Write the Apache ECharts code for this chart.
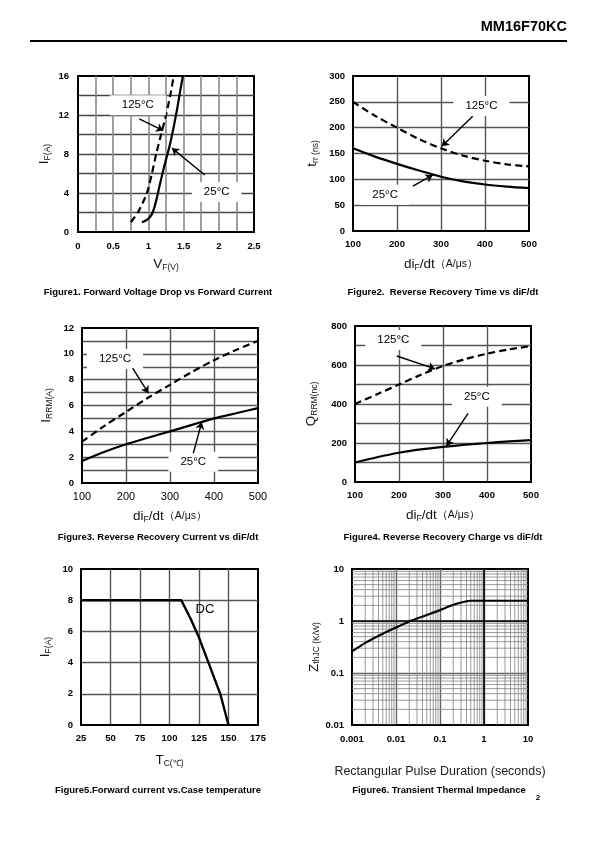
<!DOCTYPE html>
<html><head><meta charset="utf-8">
<script src="https://cdn.jsdelivr.net/npm/echarts@6/dist/echarts.min.js"></script>
<style>html,body{margin:0;padding:0;background:#fff}#c{width:595px;height:842px}</style>
</head><body><div id="c"></div>
<script>
// ---------- data ----------
// Figure 1: forward voltage (V) vs forward current (A)
const f1_125 = [[0.75,1],[0.85,2],[0.92,3],[0.98,4],[1.05,6],[1.11,8],[1.18,10],[1.25,12],[1.31,14],[1.36,16]];
const f1_25  = [[0.91,1],[0.98,1.25],[1.04,1.7],[1.08,2.4],[1.12,3.5],[1.16,4.8],[1.22,6.6],[1.30,8.8],[1.36,10.8],[1.41,12.7],[1.45,14.4],[1.49,16]];
// Figure 2: trr (ns) vs diF/dt
const f2_125 = [[100,250],[150,223],[200,200],[250,178],[300,160],[350,146],[400,136],[450,129],[500,125]];
const f2_25  = [[100,160],[150,144],[200,130],[250,117],[300,105],[350,96],[400,90],[450,86],[500,83]];
// Figure 3: IRRM (A) vs diF/dt
const f3_125 = [[100,3.2],[150,4.4],[200,5.5],[250,6.6],[300,7.6],[350,8.6],[400,9.5],[450,10.3],[500,11.0]];
const f3_25  = [[100,1.7],[150,2.4],[200,3.0],[250,3.5],[300,4.0],[350,4.5],[400,5.0],[450,5.4],[500,5.8]];
// Figure 4: QRRM (nC) vs diF/dt
const f4_125 = [[100,400],[150,450],[200,500],[250,550],[300,595],[350,630],[400,658],[450,680],[500,697]];
const f4_25  = [[100,100],[150,127],[200,150],[250,167],[300,180],[350,191],[400,200],[450,208],[500,215]];
// Figure 5: IF (A) vs Tc
const f5_dc  = [[25,8],[110,8],[118,6.8],[125,5.6],[133,4],[143,2],[150,0]];
// Figure 6: Zth (K/W) vs pulse duration (s)
const f6_z   = [[0.001,0.26],[0.002,0.38],[0.005,0.57],[0.01,0.75],[0.02,0.98],[0.05,1.3],[0.1,1.62],[0.2,2.05],[0.5,2.45],[1,2.45],[10,2.45]];

// annotation labels and arrows (data coordinates)
const f1_lbl = [{t:'125°C', p:[0.85,13.0]}, {t:'25°C', p:[1.97,4.1]}];
const f1_arr = [[[0.87,11.6],[1.21,10.4]], [[1.80,5.85],[1.335,8.6]]];
const f2_lbl = [{t:'125°C', p:[392,242]}, {t:'25°C', p:[173,70]}];
const f2_arr = [[[372,222],[302,164]], [[236,87],[281,108]]];
const f3_lbl = [{t:'125°C', p:[175,9.6]}, {t:'25°C', p:[353,1.65]}];
const f3_arr = [[[215,8.9],[251,6.95]], [[353,2.3],[372,4.7]]];
const f4_lbl = [{t:'125°C', p:[187,728]}, {t:'25°C', p:[377,437]}];
const f4_arr = [[[195,646],[282,580]], [[357,352],[308,185]]];
const f5_lbl = [{t:'DC', p:[130,7.4]}];

// ---------- layout ----------
const grids = [
  {left:78, top:76, width:176, height:156},
  {left:353, top:76, width:176, height:155},
  {left:82, top:328, width:176, height:155},
  {left:355, top:326, width:176, height:156},
  {left:81, top:569, width:177, height:156},
  {left:352, top:569, width:176, height:156}
];
const FONT = '"Liberation Sans", Arial, sans-serif';
const lblStyle = {color:'#000', fontSize:9.5, fontWeight:'bold', fontFamily:FONT};
const rich = {
  m:{fontSize:13.5, fontFamily:FONT, color:'#111'},
  s:{fontSize:8.5, fontFamily:FONT, color:'#111', verticalAlign:'bottom', padding:[6,0,0,0]},
  u:{fontSize:10.5, fontFamily:FONT, color:'#111'}
};
function every(step){ return v => (Math.abs(v/step - Math.round(v/step)) < 1e-6) ? String(+v.toPrecision(4)) : ''; }
function valAxis(gi, o){
  return Object.assign({
    type:'value', gridIndex:gi,
    axisLine:{show:true, onZero:false, lineStyle:{color:'#000', width:2}},
    axisTick:{show:false},
    axisLabel:Object.assign({margin:8}, lblStyle),
    splitLine:{show:true, showMinLine:false, showMaxLine:false, lineStyle:{color:'#555', width:1.4}},
    nameLocation:'middle', nameTextStyle:{rich:rich}
  }, o);
}
function lbls(arr){
  return {symbol:'rect', symbolSize:0, silent:true, z:6,
    label:{show:true, position:'inside', color:'#000', fontSize:11.5, fontFamily:FONT,
      backgroundColor:'#fff', padding:[4,12], formatter:p=>p.name},
    data:arr.map(a=>({name:a.t, coord:a.p}))};
}
function arrows(arr){
  return {silent:true, symbol:['none','arrow'], symbolSize:7, z:7,
    lineStyle:{color:'#000', width:1.4, type:'solid'}, label:{show:false},
    data:arr.map(a=>[{coord:a[0]},{coord:a[1]}])};
}
function curve(i, data, dashed, extra){
  return Object.assign({type:'line', xAxisIndex:i, yAxisIndex:i, data:data, smooth:0.3,
    showSymbol:false, symbol:'none', z:3,
    lineStyle:{color:'#000', width:2.2, type: dashed ? [7,4] : 'solid'}}, extra||{});
}

const xAxes = [
  valAxis(0,{min:0,max:2.5,interval:0.25, axisLabel:Object.assign({margin:9, formatter:every(0.5)},lblStyle),
    splitLine:{show:true,showMinLine:false,showMaxLine:false,lineStyle:{color:'#888',width:1.6}},
    name:'{m|V}{s|F(V)}', nameGap:25}),
  valAxis(1,{min:100,max:500,interval:100, name:'{m|di}{s|F}{m|/dt}{u|（A/μs）}', nameGap:26}),
  valAxis(2,{min:100,max:500,interval:100, axisLabel:Object.assign({margin:8},lblStyle,{fontWeight:'normal',fontSize:11}),
    name:'{m|di}{s|F}{m|/dt}{u|（A/μs）}', nameGap:26}),
  valAxis(3,{min:100,max:500,interval:100, name:'{m|di}{s|F}{m|/dt}{u|（A/μs）}', nameGap:26}),
  valAxis(4,{min:25,max:175,interval:25, name:'{m|T}{s|C(℃)}', nameGap:28}),
  valAxis(5,{type:'log', logBase:10, min:0.001, max:10,
    axisLabel:Object.assign({margin:9, formatter:v=>String(+(+v).toPrecision(3))},lblStyle),
    splitLine:{show:true,showMinLine:false,showMaxLine:false,lineStyle:{color:'#666',width:1.4}},
    name:'Rectangular Pulse Duration (seconds)', nameGap:40,
    nameTextStyle:{fontSize:12.5, fontFamily:FONT, color:'#222'}})
];
const yAxes = [
  valAxis(0,{min:0,max:16,interval:2, axisLabel:Object.assign({margin:9, formatter:every(4)},lblStyle),
    splitLine:{show:true,showMinLine:false,showMaxLine:false,lineStyle:{color:'#444',width:1.3}},
    name:'{m|I}{s|F(A)}', nameGap:26}),
  valAxis(1,{min:0,max:300,interval:50, name:'{m|t}{s|rr (ns)}', nameGap:33}),
  valAxis(2,{min:0,max:12,interval:1, axisLabel:Object.assign({margin:8, formatter:every(2)},lblStyle),
    name:'{m|I}{s|RRM(A)}', nameGap:28}),
  valAxis(3,{min:0,max:800,interval:100, axisLabel:Object.assign({margin:8, formatter:every(200)},lblStyle),
    name:'{m|Q}{s|RRM(nc)}', nameGap:36}),
  valAxis(4,{min:0,max:10,interval:2, name:'{m|I}{s|F(A)}', nameGap:28}),
  valAxis(5,{type:'log', logBase:10, min:0.01, max:10,
    axisLabel:Object.assign({margin:8, formatter:v=>String(+(+v).toPrecision(3))},lblStyle),
    splitLine:{show:true,showMinLine:false,showMaxLine:false,lineStyle:{color:'#666',width:1.4}},
    name:'{m|Z}{s|thJC (K/W)}', nameGap:30})
];

// minor log grid lines for figure 6 (drawn as broken line segments through the log axes)
const gridSeg = [];
for (let d=-3; d<1; d++) for (let k=2; k<10; k++) { const v=k*Math.pow(10,d); gridSeg.push([v,0.01],[v,10],'-'); }
for (let d=-2; d<1; d++) for (let k=2; k<10; k++) { const v=k*Math.pow(10,d); gridSeg.push([0.001,v],[10,v],'-'); }
const majSeg = [[1,0.01],[1,10],'-',[0.001,1],[10,1]];

const series = [
  curve(0, f1_125, true, {smooth:0.2, markPoint:lbls(f1_lbl), markLine:arrows(f1_arr)}),
  curve(0, f1_25, false, {smooth:0.2}),
  curve(1, f2_125, true, {markPoint:lbls(f2_lbl), markLine:arrows(f2_arr)}),
  curve(1, f2_25, false),
  curve(2, f3_125, true, {markPoint:lbls(f3_lbl), markLine:arrows(f3_arr)}),
  curve(2, f3_25, false),
  curve(3, f4_125, true, {markPoint:lbls(f4_lbl), markLine:arrows(f4_arr)}),
  curve(3, f4_25, false),
  curve(4, f5_dc, false, {smooth:false, lineStyle:{color:'#000', width:2.4},
    markPoint:{symbol:'rect', symbolSize:0, silent:true,
      label:{show:true, position:'inside', color:'#000', fontSize:13, fontFamily:FONT, formatter:p=>p.name},
      data:f5_lbl.map(a=>({name:a.t, coord:a.p}))}}),
  {type:'line', xAxisIndex:5, yAxisIndex:5, data:gridSeg, z:1, silent:true, connectNulls:false,
    showSymbol:false, symbol:'none', lineStyle:{color:'#808080', width:0.8}},
  {type:'line', xAxisIndex:5, yAxisIndex:5, data:majSeg, z:2, silent:true, connectNulls:false,
    showSymbol:false, symbol:'none', lineStyle:{color:'#000', width:1.6}},
  curve(5, f6_z, false, {smooth:0.2, z:4})
];

const T = (x,y,text,o) => ({type:'text', x:x, y:y, silent:true,
  style:Object.assign({text:text, fill:'#000', font:'bold 9.5px '+FONT, textAlign:'center', textVerticalAlign:'middle'}, o||{})});

const graphic = [
  T(567, 27, 'MM16F70KC', {font:'bold 14.5px '+FONT, textAlign:'right'}),
  {type:'line', silent:true, shape:{x1:30,y1:41,x2:567,y2:41}, style:{stroke:'#000', lineWidth:2}},
  T(158, 292, 'Figure1. Forward Voltage Drop vs Forward Current'),
  T(443, 292, 'Figure2.  Reverse Recovery Time vs diF/dt'),
  T(158, 537, 'Figure3. Reverse Recovery Current vs diF/dt'),
  T(443, 537, 'Figure4. Reverse Recovery Charge vs diF/dt'),
  T(158, 790, 'Figure5.Forward current vs.Case temperature'),
  T(439, 790, 'Figure6. Transient Thermal Impedance'),
  T(538, 798, '2', {font:'bold 8px '+FONT})
];

const chart = echarts.init(document.getElementById('c'), null, {renderer:'canvas'});
chart.setOption({
  animation:false,
  backgroundColor:'#fff',
  grid: grids.map(g=>Object.assign({show:true, borderColor:'#000', borderWidth:2, backgroundColor:'transparent'}, g)),
  xAxis:xAxes, yAxis:yAxes, series:series, graphic:graphic
});
</script></body></html>
